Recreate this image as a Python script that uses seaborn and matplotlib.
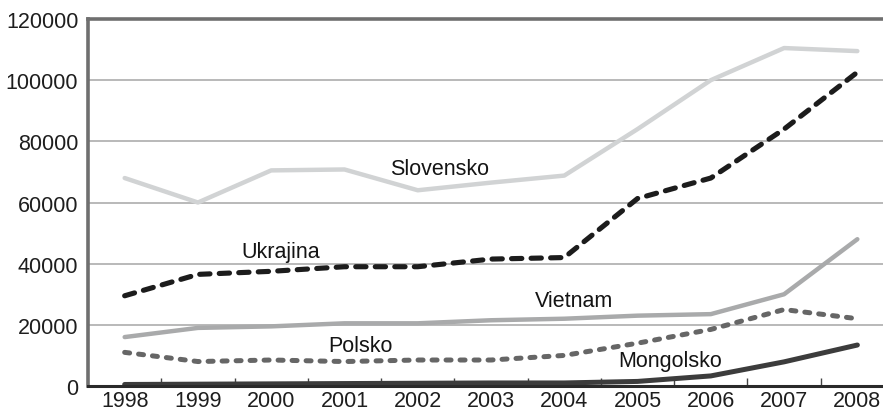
import pandas as pd
import matplotlib.pyplot as plt
import numpy as np
import seaborn as sns

years = [1998, 1999, 2000, 2001, 2002, 2003, 2004, 2005, 2006, 2007, 2008]
slovensko = [68000, 60000, 70500, 70800, 64000, 66500, 68800, 84000, 100000, 110500, 109500]
ukrajina = [29500, 36500, 37500, 39000, 39000, 41500, 42000, 61300, 68000, 84000, 102600]
vietnam = [16000, 19000, 19500, 20500, 20500, 21500, 22000, 23000, 23500, 30000, 48000]
polsko = [11000, 8000, 8500, 8000, 8500, 8500, 10000, 14000, 18500, 25000, 22000]
mongolsko = [500, 600, 700, 800, 900, 1000, 1000, 1500, 3300, 7900, 13400]
yticks = [0, 20000, 40000, 60000, 80000, 100000, 120000]

sns.set_style('white')
plt.rcParams['font.family'] = ['Liberation Sans', 'DejaVu Sans']

fig = plt.figure(figsize=(8.83, 4.14), dpi=100)
ax = fig.add_axes([0.0997, 0.0652, 0.9003, 0.8865])

# styl pro kazdou zemi
series = [
    ('Slovensko', slovensko, '#d1d3d4', None, 3.2),
    ('Vietnam', vietnam, '#a9aaab', None, 3.2),
    ('Mongolsko', mongolsko, '#3c3c3c', None, 3.6),
    ('Polsko', polsko, '#666666', (1.0, 1.8), 3.6),
    ('Ukrajina', ukrajina, '#1c1c1c', (2.0, 1.8), 3.7),
]
for name, vals, col, dash, lw in series:
    df = pd.DataFrame({'rok': years, 'pocet': vals})
    sns.lineplot(data=df, x='rok', y='pocet', color=col, linewidth=lw, ax=ax,
                 solid_capstyle='round', dash_capstyle='round')
    if dash is not None:
        ax.lines[-1].set_dashes(dash)

for y in yticks[1:-1]:
    ax.axhline(y, color='#a5a5a5', lw=1.1, zorder=0)

ax.set_xlim(1997.5, 2008.35)
ax.set_ylim(0, 120000)
ax.set_xticks(years)
ax.set_xticklabels([str(y) for y in years])
ax.set_xticks(np.arange(1998.5, 2008, 1.0), minor=True)
ax.set_yticks(yticks)
ax.set_yticklabels([str(y) for y in yticks])
ax.tick_params(axis='x', which='major', length=0, labelsize=15.5, colors='#1e1e1e', pad=3)
ax.tick_params(axis='x', which='minor', direction='in', length=6, width=1, color='#444444', bottom=True)
ax.tick_params(axis='y', length=0, labelsize=15.5, colors='#1e1e1e', pad=7)
ax.set_xlabel('')
ax.set_ylabel('')

ax.spines['right'].set_visible(False)
ax.spines['top'].set_color('#6f6f6f')
ax.spines['top'].set_linewidth(2.6)
ax.spines['left'].set_color('#6f6f6f')
ax.spines['left'].set_linewidth(2.6)
ax.spines['bottom'].set_color('#2a2a2a')
ax.spines['bottom'].set_linewidth(2.2)

lab = dict(fontsize=15.5, color='#141414', ha='center', va='center')
ax.text(2002.3, 71100, 'Slovensko', **lab)
ax.text(2000.13, 43900, 'Ukrajina', **lab)
ax.text(2004.13, 27900, 'Vietnam', **lab)
ax.text(2001.22, 13100, 'Polsko', **lab)
ax.text(2005.45, 8200, 'Mongolsko', **lab)

fig.savefig('out.png', dpi=100)
